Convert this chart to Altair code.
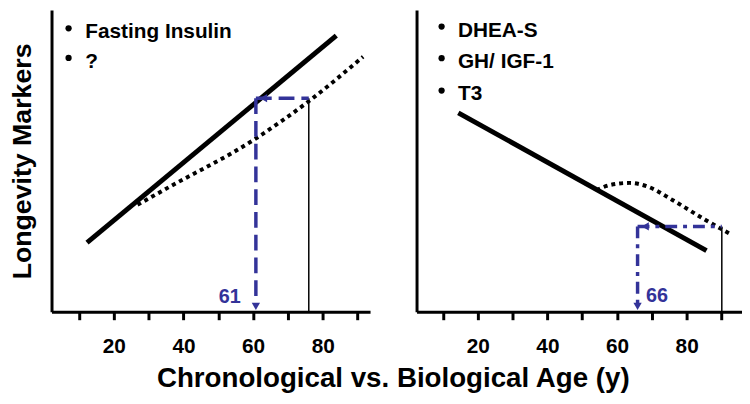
import altair as alt
import pandas as pd

FONT = "Liberation Sans"
BLUE = "#333399"

# ---- shared axis ticks (years) ----
X_TICKS = [10, 20, 30, 40, 50, 60, 70, 80, 90]

# ---- left panel: markers that rise with age ----
left_items = ["Fasting Insulin", "?"]
left_item_y = [89.9, 80.0]
left_bullet_y = [93.0, 83.3]
left_solid_x = [12.3, 83.9]
left_solid_y = [22.7, 90.6]
left_dotted_x = [26.8, 35.2, 60.3, 76.0, 91.6]
left_dotted_y = [35.1, 40.5, 56.5, 69.1, 83.7]
left_chrono_age = 76.0
left_bio_age = 60.8
left_level = 70.1
left_bio_label = "61"

# ---- right panel: markers that fall with age ----
right_items = ["DHEA-S", "GH/ IGF-1", "T3"]
right_item_y = [90.2, 80.0, 69.4]
right_bullet_y = [93.6, 83.2, 72.6]
right_solid_x = [14.4, 85.7]
right_solid_y = [65.3, 20.1]
right_dotted_x = [54.1, 58.0, 63.6, 69.0, 75.9, 85.3, 92.9]
right_dotted_y = [39.9, 41.6, 42.3, 41.0, 36.7, 30.2, 25.3]
right_chrono_age = 90.1
right_bio_age = 65.9
right_level = 28.0
right_bio_label = "66"


def panel(items, item_y, bullet_y, sx, sy, dx, dy, chrono, bio, level, bio_label,
          label_pos, bullet_x, text_x, xdom, width, dash, ytitle):
    xs = alt.Scale(domain=xdom, nice=False, zero=False)
    ys = alt.Scale(domain=[0, 99], nice=False, zero=False)
    xax = alt.Axis(values=X_TICKS, labelExpr="datum.value % 20 == 0 ? datum.label : ''",
                   title=None, grid=False)
    if ytitle:
        yax = alt.Axis(labels=False, ticks=False, grid=False, title=ytitle)
    else:
        yax = alt.Axis(labels=False, ticks=False, grid=False, title=None)

    def X(f="x"):
        return alt.X(f + ":Q", scale=xs, axis=xax)

    def Y(f="y"):
        return alt.Y(f + ":Q", scale=ys, axis=yax)

    solid = alt.Chart(pd.DataFrame({"x": sx, "y": sy})).mark_line(
        color="black", strokeWidth=5, strokeCap="butt").encode(x=X(), y=Y())
    dotted = alt.Chart(pd.DataFrame({"x": dx, "y": dy})).mark_line(
        color="black", strokeWidth=4, strokeDash=[4, 4], interpolate="monotone",
        strokeCap="butt").encode(x=X(), y=Y())
    thin = alt.Chart(pd.DataFrame({"x": [chrono], "y": [0], "y2": [level]})).mark_rule(
        color="black", strokeWidth=1.5).encode(x=X(), y=Y(), y2="y2:Q")
    horiz = alt.Chart(pd.DataFrame({"x": [bio], "x2": [chrono], "y": [level]})).mark_rule(
        color=BLUE, strokeWidth=3.5, strokeDash=dash).encode(x=X(), x2="x2:Q", y=Y())
    vert = alt.Chart(pd.DataFrame({"x": [bio], "y": [level], "y2": [2.5]})).mark_rule(
        color=BLUE, strokeWidth=3.5, strokeDash=dash).encode(x=X(), y=Y(), y2="y2:Q")
    down = alt.Chart(pd.DataFrame({"x": [bio], "y": [1.8]})).mark_point(
        shape="triangle-down", filled=True, color=BLUE, size=70, opacity=1).encode(x=X(), y=Y())
    left = alt.Chart(pd.DataFrame({"x": [bio + 2.2], "y": [level]})).mark_point(
        shape="triangle-left", filled=True, color=BLUE, size=70, opacity=1).encode(x=X(), y=Y())
    lab = alt.Chart(pd.DataFrame({"x": [label_pos[0]], "y": [label_pos[1]], "t": [bio_label]})).mark_text(
        color=BLUE, font=FONT, fontSize=20, fontWeight="bold", baseline="middle").encode(
        x=X(), y=Y(), text="t:N")
    bullets = alt.Chart(pd.DataFrame({"x": [bullet_x] * len(items), "y": bullet_y})).mark_circle(
        color="black", size=40, opacity=1).encode(x=X(), y=Y())
    texts = alt.Chart(pd.DataFrame({"x": [text_x] * len(items), "y": item_y, "t": items})).mark_text(
        color="black", font=FONT, fontSize=21, fontWeight="bold", align="left",
        baseline="alphabetic").encode(x=X(), y=Y(), text="t:N")

    return alt.layer(solid, dotted, thin, horiz, vert, down, left, lab, bullets, texts).properties(
        width=width, height=305)


left_panel = panel(left_items, left_item_y, left_bullet_y, left_solid_x, left_solid_y,
                   left_dotted_x, left_dotted_y, left_chrono_age, left_bio_age, left_level,
                   left_bio_label, (53.3, 4.8), 7.0, 11.8, [2.1, 93.6], 322, [16, 7],
                   "Longevity Markers")
right_panel = panel(right_items, right_item_y, right_bullet_y, right_solid_x, right_solid_y,
                    right_dotted_x, right_dotted_y, right_chrono_age, right_bio_age, right_level,
                    right_bio_label, (71.5, 5.3), 9.6, 14.3, [2.4, 95.9], 329, [12, 6, 4, 6],
                    None)

chart = alt.hconcat(left_panel, right_panel, spacing=46).properties(
    padding=0,
    title=alt.TitleParams("Chronological vs. Biological Age (y)", orient="bottom",
                          anchor="middle", font=FONT, fontSize=28, fontWeight="bold",
                          color="black", dx=18, offset=9)
).configure_view(strokeWidth=0).configure_axis(
    domainColor="black", domainWidth=3, tickColor="black", tickWidth=3, tickSize=8,
    labelFont=FONT, labelFontSize=21, labelFontWeight="bold", labelColor="black",
    labelPadding=16, titleFont=FONT, titleFontSize=27, titleFontWeight="bold",
    titleColor="black", titlePadding=15
)

chart.save("out.html", embed_options={"renderer": "svg", "actions": False})
